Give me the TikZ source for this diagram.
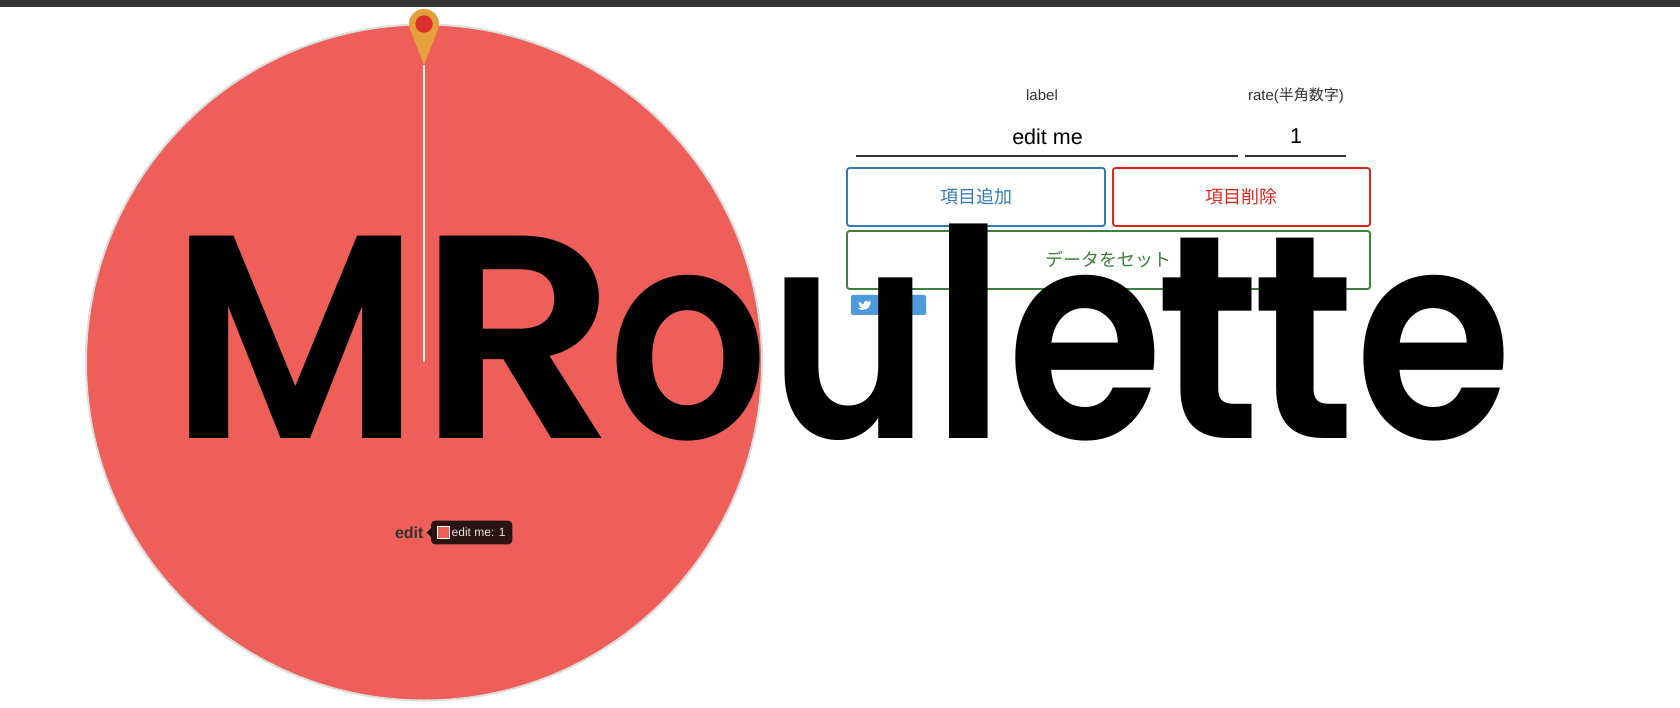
\documentclass[tikz,border=0pt]{standalone}
\usepackage{fontspec}
\setmainfont{Liberation Sans}
\newfontfamily\cjkfont{Noto Sans CJK JP}
\newfontfamily\titlefont{Poppins SemiBold}
\newcommand{\gl}[3]{\scalebox{#1}[1]{#2}\kern#3pt\relax}
\definecolor{wheelred}{HTML}{EF5F5A}
\definecolor{wheeledge}{HTML}{DDDDDD}
\definecolor{barcol}{HTML}{333333}
\definecolor{pinor}{HTML}{E5A03D}
\definecolor{pinred}{HTML}{D9302A}
\definecolor{btnblue}{HTML}{337AB7}
\definecolor{btnred}{HTML}{E0261C}
\definecolor{btngreen}{HTML}{3C803C}
\definecolor{twblue}{HTML}{4E9ADB}
\definecolor{tipdark}{HTML}{2B1313}
\tikzset{
  every node/.style={inner sep=0pt,outer sep=0pt},
  fieldlabel/.style={font=\fontsize{15}{15}\selectfont,text=barcol},
  fieldvalue/.style={font=\fontsize{21.5}{21.5}\selectfont,text=black},
  fieldline/.style={draw=barcol,line width=2pt},
  btn/.style={draw=#1,line width=1.8pt,rounded corners=2.5pt,text=#1,font=\fontsize{18}{18}\selectfont\cjkfont,anchor=north west}
}
\begin{document}
\begin{tikzpicture}[x=1pt,y=-1pt]
\useasboundingbox (0,0) rectangle (1680,708);
\fill[white] (0,0) rectangle (1680,708);
\fill[barcol] (0,0) rectangle (1680,7);
\node[circle,minimum size=676pt,draw=wheeledge,line width=2pt,fill=wheelred] (wheel) at (424,362.5) {};
\coordinate (center) at (424,362);
\coordinate (tip) at (424,65);
\draw[wheeledge!50,line width=2pt] (tip) -- (center);
\fill[pinor] (424,65) -- (410.4,30.3) arc[start angle=155,end angle=385,radius=15] -- cycle;
\node[circle,minimum size=17.5pt,fill=pinred] (pinhub) at (424,24) {};
% tooltip
\node[anchor=east,font=\fontsize{16}{16}\selectfont\bfseries,text=barcol] (edit) at (423.5,533) {edit};
\node[draw=none,fill=tipdark,rounded corners=4pt,minimum width=81.3pt,minimum height=23.6pt,anchor=west] (tip box) at (431,532.5) {};
\fill[black] (426.7,532.7) -- (431.5,528) -- (431.5,537.5) -- cycle;
\node[draw=white,line width=1pt,fill=wheelred,minimum size=12pt,anchor=west] (swatch) at (437,532.5) {};
\node[anchor=west,text=white!90!black,font=\fontsize{12}{12}\selectfont] (tiptext) at (451.7,532.5) {edit me: 1};
% form
\node[fieldlabel] (lab1) at (1042,95.5) {label};
\node[fieldlabel] (lab2) at (1296,95.5) {rate({\cjkfont 半角数字})};
\node[fieldvalue] (val1) at (1047.5,137) {edit me};
\node[fieldvalue] (val2) at (1296,136.5) {1};
\coordinate (l1a) at (856,155.7);\coordinate (l1b) at (1238,155.7);
\coordinate (l2a) at (1245,155.7);\coordinate (l2b) at (1346,155.7);
\draw[fieldline] (l1a) -- (l1b);
\draw[fieldline] (l2a) -- (l2b);
\node[btn=btnblue,minimum width=258pt,minimum height=58pt] (add) at (847,168) {項目追加};
\node[btn=btnred,minimum width=257pt,minimum height=58pt] (del) at (1113,168) {項目削除};
\node[btn=btngreen,minimum width=523pt,minimum height=58pt] (set) at (847,231) {データをセット};
\node[fill=twblue,rounded corners=2pt,minimum width=75pt,minimum height=20pt,anchor=north west] (tw) at (851,295) {};
\begin{scope}[shift={(864.5,305)},scale=.75,shift={(-865,-306)}]
\fill[white] (857.5,301) .. controls (860,304) and (862,305) .. (864,305) .. controls (863.5,301) and (868,299) .. (870.5,301.5) -- (873,300.5) -- (872,303) -- (874,302.5) -- (872.5,304.5) .. controls (872.5,310) and (865,315) .. (856.5,311) .. controls (859,311) and (860.5,310.5) .. (862,309.5) .. controls (860,309.5) and (858.5,308.5) .. (858,307) -- (860,307) .. controls (858,306.5) and (857,305) .. (857,303.5) -- (858.5,304) .. controls (857,303) and (857,302) .. (857.5,301) -- cycle;
\end{scope}
% title
\node[anchor=base west,font=\fontsize{290}{290}\selectfont\titlefont,text=black] (title) at (170.4,438) {\gl{.96}{M}{-2}\gl{1.07}{R}{-9}\gl{.865}{o}{1}\gl{.835}{u}{1}\gl{.95}{l}{0}\gl{.87}{e}{-6.5}\gl{.925}{t}{-8}\gl{.915}{t}{0}\gl{.877}{e}{0}};
\end{tikzpicture}
\end{document}
